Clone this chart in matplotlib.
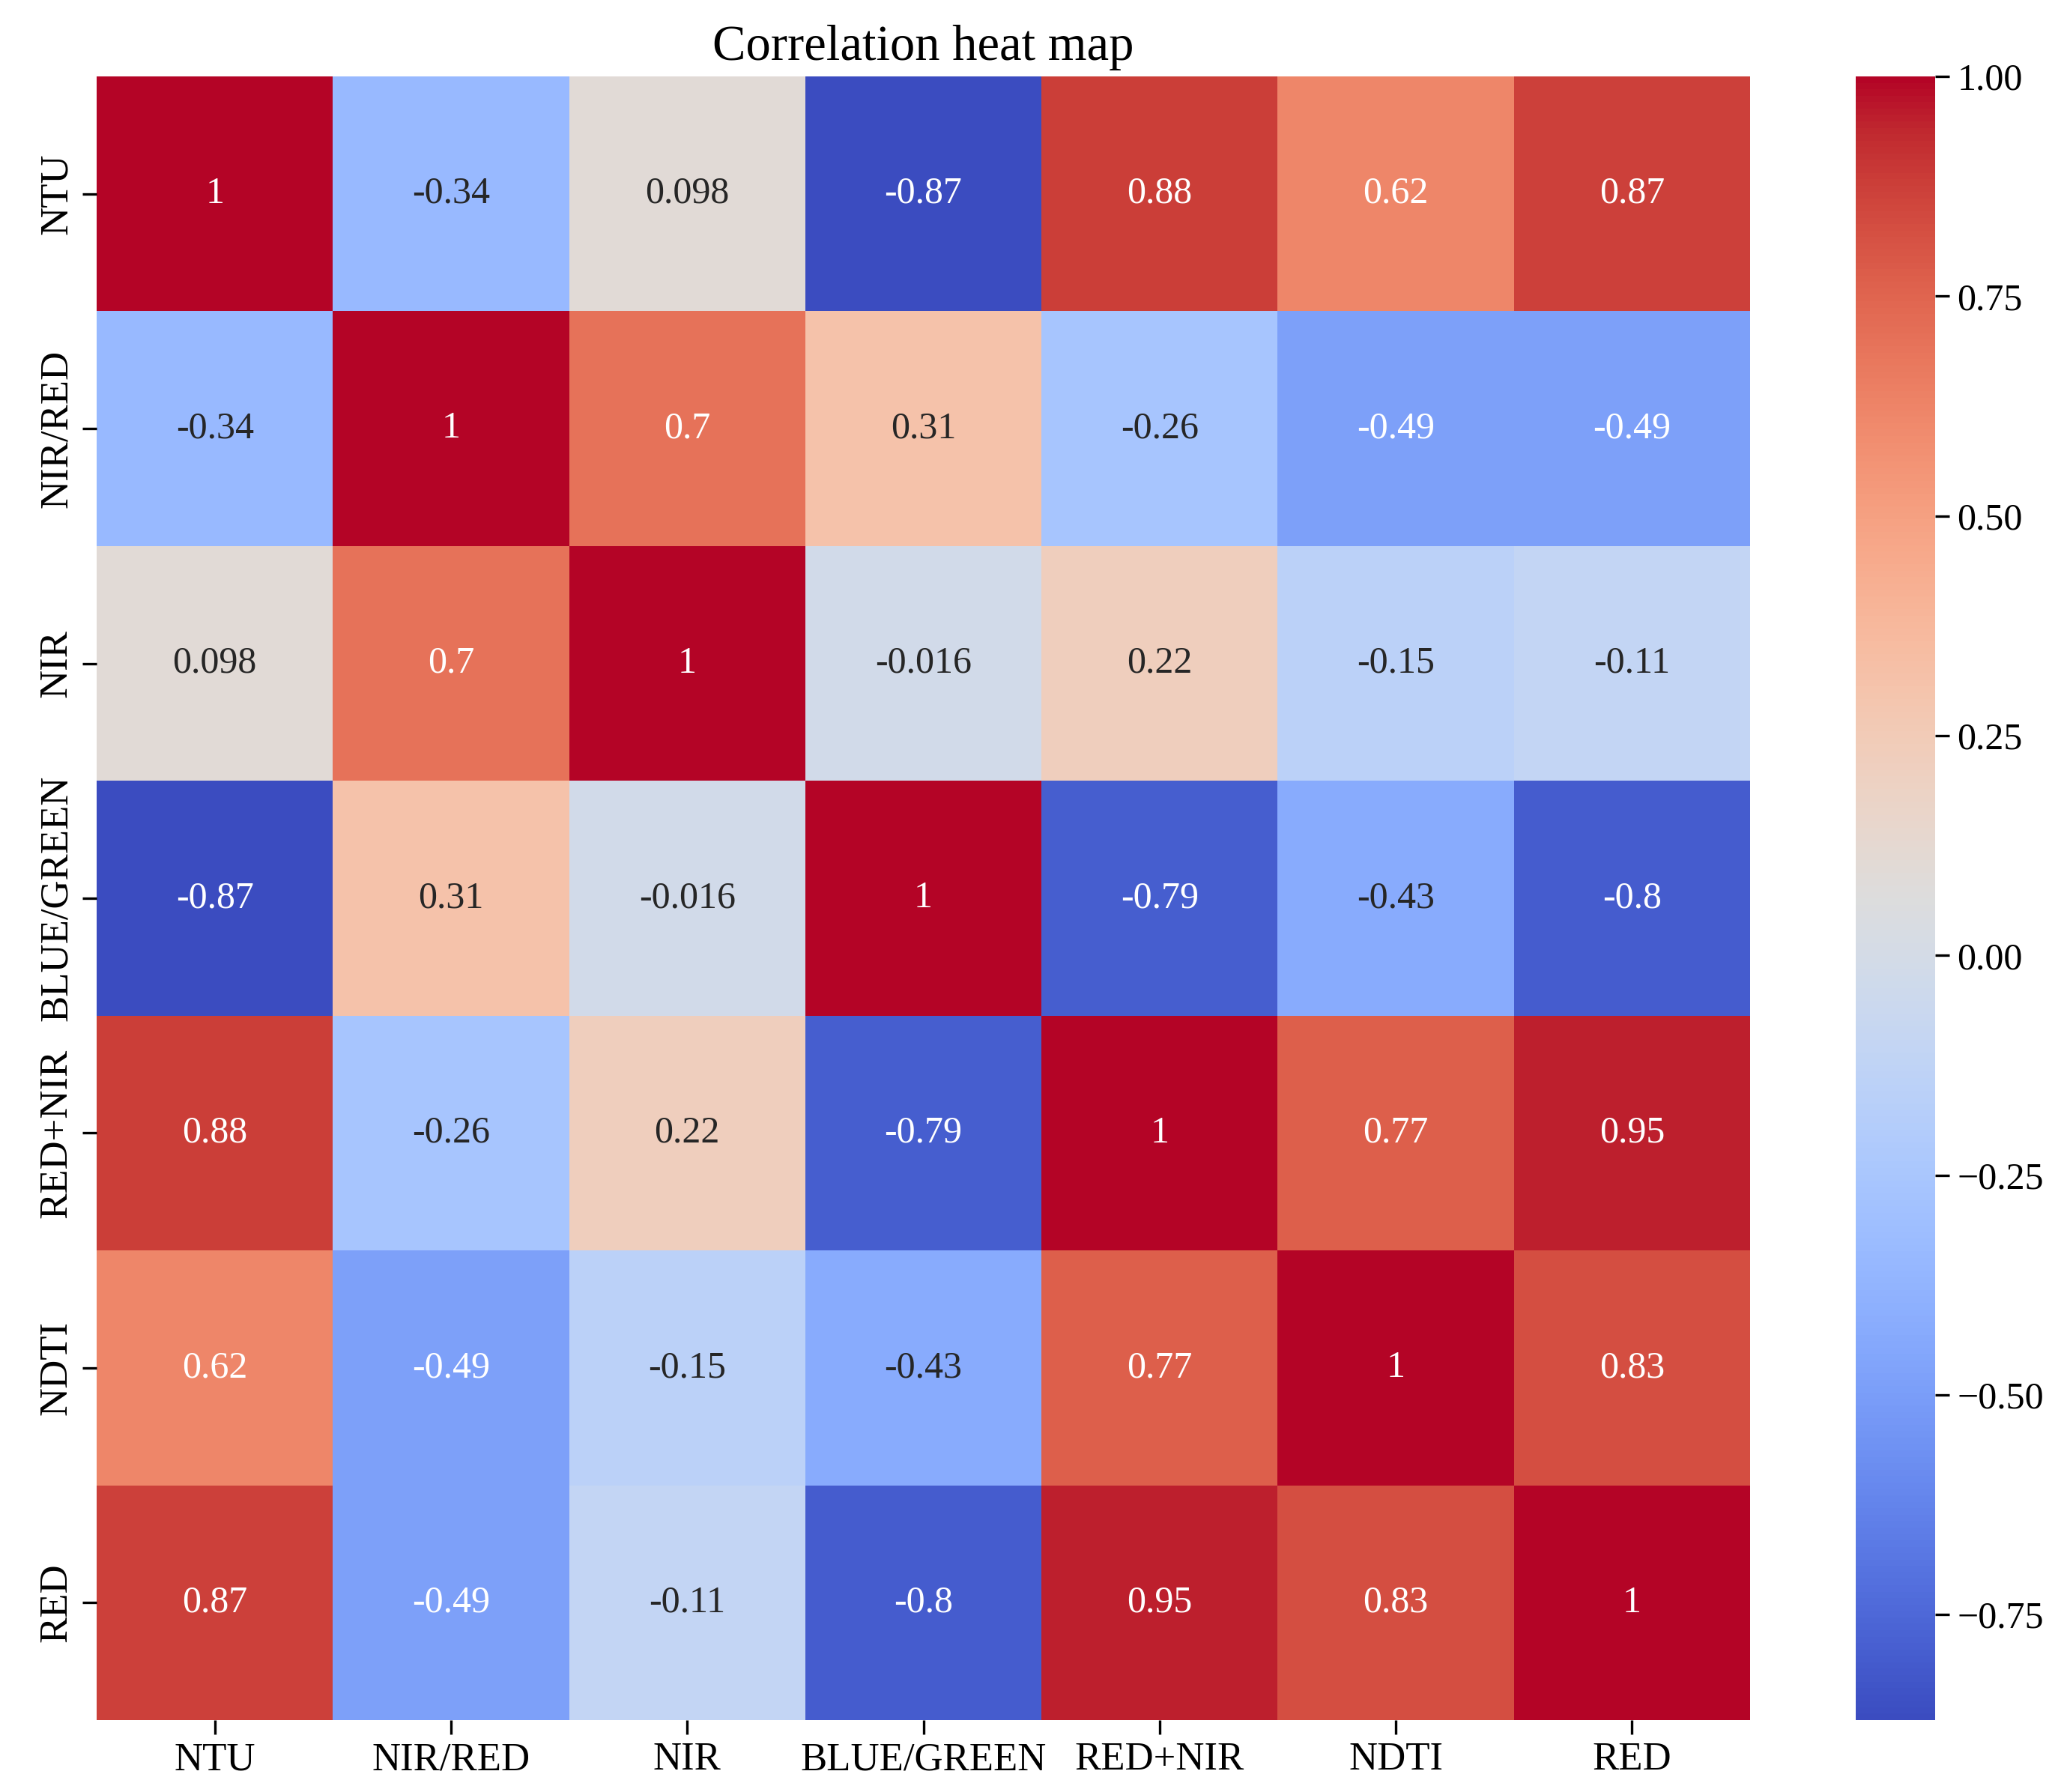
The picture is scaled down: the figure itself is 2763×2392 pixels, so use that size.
import matplotlib
matplotlib.use("Agg")
import matplotlib.pyplot as plt
import seaborn as sns
import numpy as np
import pandas as pd

# ---------------------------------------------------------------- donnees
labels = ["NTU", "NIR/RED", "NIR", "BLUE/GREEN", "RED+NIR", "NDTI", "RED"]

r_ntu = [1, -0.34, 0.098, -0.87, 0.88, 0.62, 0.87]
r_nir_red = [-0.34, 1, 0.7, 0.31, -0.26, -0.49, -0.49]
r_nir = [0.098, 0.7, 1, -0.016, 0.22, -0.15, -0.11]
r_blue_green = [-0.87, 0.31, -0.016, 1, -0.79, -0.43, -0.8]
r_red_nir = [0.88, -0.26, 0.22, -0.79, 1, 0.77, 0.95]
r_ndti = [0.62, -0.49, -0.15, -0.43, 0.77, 1, 0.83]
r_red = [0.87, -0.49, -0.11, -0.8, 0.95, 0.83, 1]

corr = pd.DataFrame([r_ntu, r_nir_red, r_nir, r_blue_green, r_red_nir, r_ndti, r_red],
                    index=labels, columns=labels)

# ---------------------------------------------------------------- figure
plt.rcParams['font.family'] = ['Liberation Serif', 'DejaVu Serif']

fig = plt.figure(figsize=(13.815, 11.96), dpi=200)
ax = fig.add_axes([129 / 2763, 1 - 2296 / 2392, (2336 - 129) / 2763, (2296 - 102) / 2392])
cax = fig.add_axes([2477 / 2763, 1 - 2296 / 2392, (2583 - 2477) / 2763, (2296 - 102) / 2392])

sns.heatmap(corr, annot=True, cmap='coolwarm', ax=ax, cbar_ax=cax,
            annot_kws={'fontsize': 18})

ax.set_title("Correlation heat map", fontsize=24, pad=8)
ax.tick_params(axis='both', labelsize=19, length=7, width=1.2)
ax.set_xticklabels(labels, rotation=0)
ax.set_yticklabels(labels, rotation=90, va='center')

cax.tick_params(labelsize=18, length=7, width=1.2)
cax.yaxis.set_major_formatter(matplotlib.ticker.StrMethodFormatter("{x:.2f}"))

fig.savefig("out.png", dpi=200)
